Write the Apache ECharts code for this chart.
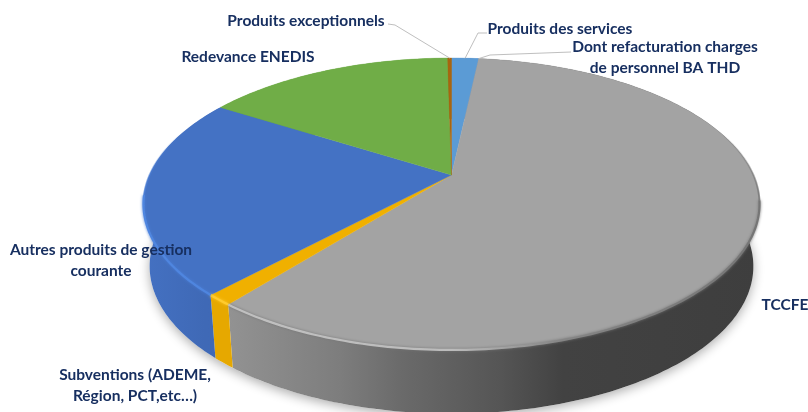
<!DOCTYPE html>
<html>
<head>
<meta charset="utf-8">
<style>html,body{margin:0;padding:0;background:#fff}#chart{width:808px;height:412px}</style>
<script src="https://cdn.jsdelivr.net/npm/echarts@6/dist/echarts.min.js"></script>
</head>
<body>
<div id="chart"></div>
<script>
// Slices, clockwise from twelve o'clock (share of revenue, %).
var categories = [
  ['Produits des services'],
  ['Dont refacturation charges', 'de personnel BA THD'],
  ['TCCFE'],
  ['Subventions (ADEME,', 'Région, PCT,etc…)'],
  ['Autres produits de gestion', 'courante'],
  ['Redevance ENEDIS'],
  ['Produits exceptionnels']
];
var shares = [1.72, 0, 59.0, 1.2, 22.0, 15.8, 0.24];

// Look of each slice: top face, rim highlight, side wall stops (by x across the disc).
var topColors = ['#5b9bd5', '#5b9bd5', '#a3a3a3', '#f0b000', '#4472c4', '#70ad47', '#a8650f'];
var rimColors = [
  ['#5b9bd5', '#5b9bd5'], ['#5b9bd5', '#5b9bd5'],
  ['#c0c0c0', '#bcbcbc', '#858585', '#757575'],
  ['#ffcb2e', '#ffcb2e'], ['#4f86e0', '#4a7ed6'],
  ['#70ad47', '#70ad47'], ['#a8650f', '#a8650f']
];
var rimStops = [[0, 1], [0, 1], [0.14, 0.5, 0.68, 1], [0, 1], [0, 1], [0, 1], [0, 1]];
var wallStops = [
  [[0, '#4a7ebb'], [1, '#4a7ebb']], [[0, '#4a7ebb'], [1, '#4a7ebb']],
  [[0.14, '#929292'], [0.32, '#7d7d7d'], [0.42, '#6a6a6a'], [0.58, '#555555'], [0.68, '#424242'], [1, '#3e3e3e']],
  [[0, '#e6a800'], [1, '#e6a800']],
  [[0, '#4471c2'], [0.1, '#3f69b6'], [1, '#3a62a8']],
  [[0, '#5f9a3b'], [1, '#5f9a3b']], [[0, '#8f5a10'], [1, '#8f5a10']]
];

// Text placement: centre x and the y of the first line; elbows of the leader lines.
var labelAnchors = [[560, 29], [665, 47], [785, 305], [135, 375], [101, 250], [248, 57], [306, 21]];
var leaderElbows = [[[487, 33], [478, 33]], [[571, 52], [490, 55]], null, null, null, null, [[388, 24], [395, 25]]];
var labelColor = '#172f60';
var labelFont = 'bold 15.5px Lato, "Open Sans", sans-serif';
var labelLineHeight = 21;

// Tilted disc: a perspective projection of a unit circle, so that the
// pie's centre sits above the middle of the ellipse it draws.
var disc = { cx: 451.5, cy: 175, ax: 301.9, ay: 140.2, k: 0.1986, depth: 62, baseX: 0.98, baseY: 1.01 };
var xMin = 143, xMax = 760;
var rimFadeAngles = [100, 262], rimFadeY = [130, 218];

function project(deg, isBase) {
  var t = deg * Math.PI / 180;
  var u = Math.sin(t), v = -Math.cos(t), w = 1 - disc.k * v;
  return [
    disc.cx + disc.ax * (isBase ? disc.baseX : 1) * u / w,
    disc.cy + (isBase ? disc.depth : 0) + disc.ay * (isBase ? disc.baseY : 1) * v / w
  ];
}
function arc(from, to, isBase) {
  var pts = [], n = Math.max(1, Math.ceil(Math.abs(to - from)));
  for (var i = 0; i <= n; i++) pts.push(project(from + (to - from) * i / n, isBase));
  return pts;
}

// Start and end angle of every slice, from the shares.
var total = shares.reduce(function (a, b) { return a + b; }, 0);
function sliceAngles(index, api) {
  var sum = 0;
  for (var i = 0; i < index; i++) sum += shares[i];
  var start = sum / total * 360;
  return [start, start + api.value(0) / total * 360];
}
function across(stops) {
  return new echarts.graphic.LinearGradient(xMin, 0, xMax, 0, stops.map(function (s) {
    return { offset: s[0], color: s[1] };
  }), true);
}

function renderShadow() {
  return {
    type: 'polygon',
    shape: { points: arc(0, 360, true) },
    style: { fill: '#fff', shadowBlur: 11, shadowColor: 'rgba(0,0,0,0.32)', shadowOffsetY: 3 }
  };
}
function renderWall(params, api) {
  var a = sliceAngles(params.dataIndex, api);
  if (a[1] - a[0] <= 0) return null;
  var pts = arc(a[0], a[1], false).concat(arc(a[1], a[0], true));
  return { type: 'polygon', shape: { points: pts }, style: { fill: across(wallStops[params.dataIndex]) } };
}
function renderTop(params, api) {
  var a = sliceAngles(params.dataIndex, api);
  if (a[1] - a[0] <= 0) return null;
  var pts = [[disc.cx, disc.cy]].concat(arc(a[0], a[1], false));
  var fill = topColors[params.dataIndex];
  return { type: 'polygon', shape: { points: pts }, style: { fill: fill, stroke: fill, lineWidth: 0.4 } };
}
function rimFade(from, to, color) {
  // The bevel dies away towards the back of the disc.
  return {
    type: 'polyline',
    shape: { points: arc(from, to, false) },
    style: {
      fill: 'none',
      lineWidth: 2,
      stroke: new echarts.graphic.LinearGradient(0, rimFadeY[0], 0, rimFadeY[1], [
        { offset: 0, color: echarts.color.modifyAlpha(color, 0) },
        { offset: 1, color: color }
      ], true)
    }
  };
}
function renderRim(params, api) {
  var i = params.dataIndex;
  var a = sliceAngles(i, api);
  var children = [];
  var colors = rimColors[i], last = colors[colors.length - 1];
  if (a[1] <= a[0]) return null;
  var from = Math.max(a[0], rimFadeAngles[0]), to = Math.min(a[1], rimFadeAngles[1]);
  if (a[0] < rimFadeAngles[0] && a[1] > 60) children.push(rimFade(Math.max(a[0], 60), Math.min(a[1], rimFadeAngles[0]), last));
  if (a[1] > rimFadeAngles[1] && a[0] < 300) children.push(rimFade(Math.min(a[1], 300), Math.max(a[0], rimFadeAngles[1]), last));
  if (to > from) {
    var stops = colors.map(function (c, j) { return [rimStops[i][j], c]; });
    children.push({
      type: 'polyline',
      shape: { points: arc(from, to, false) },
      style: { fill: 'none', stroke: across(stops), lineWidth: 2.2, shadowBlur: 3, shadowColor: last }
    });
  }
  return { type: 'group', children: children };
}
function renderLabel(params, api) {
  var i = params.dataIndex;
  var a = sliceAngles(i, api);
  var children = [];
  var elbows = leaderElbows[i];
  if (elbows) {
    var mid = (a[0] + a[1]) / 2;
    children.push({
      type: 'polyline',
      shape: { points: elbows.concat([project(mid, false)]) },
      style: { fill: 'none', stroke: '#bfbfbf', lineWidth: 1 }
    });
  }
  categories[i].forEach(function (line, j) {
    children.push({
      type: 'text',
      style: {
        text: line,
        x: labelAnchors[i][0],
        y: labelAnchors[i][1] + j * labelLineHeight,
        align: 'center',
        verticalAlign: 'middle',
        font: labelFont,
        fill: labelColor
      }
    });
  });
  return { type: 'group', children: children };
}

var rows = shares.map(function (s) { return [s]; });
function layer(z, renderItem, data) {
  return { type: 'custom', coordinateSystem: 'none', z: z, silent: true, animation: false, data: data || rows, renderItem: renderItem };
}

var chart = echarts.init(document.getElementById('chart'));
chart.setOption({
  backgroundColor: '#ffffff',
  animation: false,
  series: [
    layer(1, renderShadow, [[1]]),
    layer(2, renderWall),
    layer(3, renderTop),
    layer(4, renderRim),
    layer(5, renderLabel)
  ]
});
</script>
</body>
</html>
